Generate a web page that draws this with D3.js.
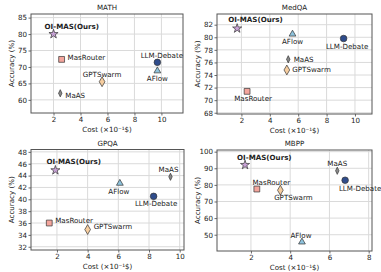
<!DOCTYPE html>
<html><head><meta charset="utf-8">
<script src="https://cdn.jsdelivr.net/npm/d3@7"></script>
<style>
html,body{margin:0;padding:0;background:#fff;}
svg{display:block;font-family:"DejaVu Sans",sans-serif;}
</style></head>
<body>
<svg id="c" width="381" height="272"></svg>
<script>
// ---- data ----
const methods = ["OI-MAS(Ours)", "MasRouter", "MaAS", "GPTSwarm", "LLM-Debate", "AFlow"];
const benchmarks = ["MATH", "MedQA", "GPQA", "MBPP"];
const costMATH  = [2.0, 2.6, 2.5, 5.6, 9.7, 9.7];
const accMATH   = [80.0, 72.3, 62.0, 65.5, 71.4, 68.8];
const costMedQA = [1.7, 2.4, 5.3, 5.2, 9.2, 5.6];
const accMedQA  = [81.4, 71.4, 76.5, 74.8, 79.8, 80.5];
const costGPQA  = [1.9, 1.5, 9.4, 4.0, 8.3, 6.1];
const accGPQA   = [44.9, 36.0, 43.8, 34.9, 40.5, 42.7];
const costMBPP  = [1.7, 2.3, 6.4, 3.5, 6.8, 4.6];
const accMBPP   = [92.0, 77.5, 88.5, 76.8, 82.8, 45.6];
const xTicksMATH = [2, 4, 6, 8, 10];
const yTicksMATH = [60, 65, 70, 75, 80, 85];
const xTicksMedQA = [2, 4, 6, 8, 10];
const yTicksMedQA = [68, 70, 72, 74, 76, 78, 80, 82];
const xTicksGPQA = [2, 4, 6, 8, 10];
const yTicksGPQA = [32, 34, 36, 38, 40, 42, 44, 46, 48];
const xTicksMBPP = [2, 4, 6, 8];
const yTicksMBPP = [50, 60, 70, 80, 90, 100];

// ---- layout / style ----
const panels = [
  {name: "MATH",  cost: costMATH,  acc: accMATH,  xt: xTicksMATH,  yt: yTicksMATH,
   x0: 31, x1: 183, y0: 14, y1: 113, xd: [0.33, 11.6], yd: [56.0, 86.1],
   lab: [["start",-9,-8],["start",6,-2],["start",5,2.5],["middle",0,-7],["middle",4.5,-6.5],["middle",0,7.5]]},
  {name: "MedQA", cost: costMedQA, acc: accMedQA, xt: xTicksMedQA, yt: yTicksMedQA,
   x0: 217, x1: 372, y0: 14, y1: 114, xd: [0.28, 11.2], yd: [67.8, 83.7],
   lab: [["start",-9,-9],["middle",6,7],["start",5.5,0],["start",5.5,0],["middle",3.5,7.5],["middle",0,7.5]]},
  {name: "GPQA",  cost: costGPQA,  acc: accGPQA,  xt: xTicksGPQA,  yt: yTicksGPQA,
   x0: 31, x1: 184, y0: 149.5, y1: 250, xd: [0.31, 10.28], yd: [31.45, 48.4],
   lab: [["start",-9,-8.5],["start",6,-2.5],["middle",-2,-7],["start",6,-3],["middle",2.5,7],["middle",-1,8]]},
  {name: "MBPP",  cost: costMBPP,  acc: accMBPP,  xt: xTicksMBPP,  yt: yTicksMBPP,
   x0: 217, x1: 372, y0: 150, y1: 251, xd: [0.27, 8.17], yd: [40.2, 101],
   lab: [["start",-8,-7.5],["middle",14.5,-6.5],["middle",0,-7],["middle",13,7.5],["middle",15,8.5],["middle",-1,-6.5]]}
];
const fills = ["#c8a2d6", "#f4a59c", "#8a8a8a", "#f6cd9f", "#2f4c8c", "#8ec3dd"];
const shapes = [
  d3.symbol().type(d3.symbolStar).size(26),
  d3.symbol().type(d3.symbolSquare).size(34),
  null, // thin diamond
  d3.symbol().type(d3.symbolDiamond).size(28),
  d3.symbol().type(d3.symbolCircle).size(34),
  d3.symbol().type(d3.symbolTriangle).size(20)
];
const thinDiamond = "M0,-3.6L1.7,0L0,3.6L-1.7,0Z";

const svg = d3.select("#c");
const FS = 7.1;

panels.forEach(p => {
  const x = d3.scaleLinear().domain(p.xd).range([p.x0, p.x1]);
  const y = d3.scaleLinear().domain(p.yd).range([p.y1, p.y0]);
  const g = svg.append("g");
  // grid
  g.selectAll(".gx").data(p.xt).enter().append("line")
    .attr("x1", d => x(d)).attr("x2", d => x(d)).attr("y1", p.y0).attr("y2", p.y1)
    .attr("stroke", "#dadada").attr("stroke-width", 1);
  g.selectAll(".gy").data(p.yt).enter().append("line")
    .attr("x1", p.x0).attr("x2", p.x1).attr("y1", d => y(d)).attr("y2", d => y(d))
    .attr("stroke", "#dadada").attr("stroke-width", 1);
  // axes
  const ax = g.append("g").attr("transform", `translate(0,${p.y1})`)
    .call(d3.axisBottom(x).tickValues(p.xt).tickSize(2.5).tickPadding(1.5).tickFormat(d3.format("d")));
  const ay = g.append("g").attr("transform", `translate(${p.x0},0)`)
    .call(d3.axisLeft(y).tickValues(p.yt).tickSize(2.5).tickPadding(1.5).tickFormat(d3.format("d")));
  [ax, ay].forEach(a => {
    a.select(".domain").remove();
    a.selectAll("line").attr("stroke", "#444").attr("stroke-width", 0.8);
    a.selectAll("text").attr("font-size", FS).attr("fill", "#222").attr("font-family", "DejaVu Sans");
  });
  // frame
  g.append("rect").attr("x", p.x0).attr("y", p.y0).attr("width", p.x1 - p.x0).attr("height", p.y1 - p.y0)
    .attr("fill", "none").attr("stroke", "#555").attr("stroke-width", 1);
  // title
  g.append("text").attr("x", (p.x0 + p.x1) / 2).attr("y", p.y0 - 4).attr("text-anchor", "middle")
    .attr("font-size", FS).attr("fill", "#222").text(p.name);
  // axis labels
  g.append("text").attr("x", (p.x0 + p.x1) / 2).attr("y", p.y1 + 18.5).attr("text-anchor", "middle")
    .attr("font-size", FS).attr("fill", "#222").text("Cost (×10⁻¹$)");
  g.append("text").attr("transform", `translate(${p.x0 - 17},${(p.y0 + p.y1) / 2}) rotate(-90)`)
    .attr("text-anchor", "middle").attr("font-size", FS).attr("fill", "#222").text("Accuracy (%)");
  // points
  methods.forEach((m, i) => {
    const cx = x(p.cost[i]), cy = y(p.acc[i]);
    g.append("path").attr("transform", `translate(${cx},${cy})`)
      .attr("d", shapes[i] ? shapes[i]() : thinDiamond)
      .attr("fill", fills[i]).attr("stroke", "#333").attr("stroke-width", 0.7);
    const l = p.lab[i];
    g.append("text").attr("x", cx + l[1]).attr("y", cy + l[2]).attr("dy", "0.35em")
      .attr("text-anchor", l[0]).attr("font-size", FS)
      .attr("font-weight", i === 0 ? "bold" : "normal").attr("fill", "#222").text(m);
  });
});
</script>
</body></html>
